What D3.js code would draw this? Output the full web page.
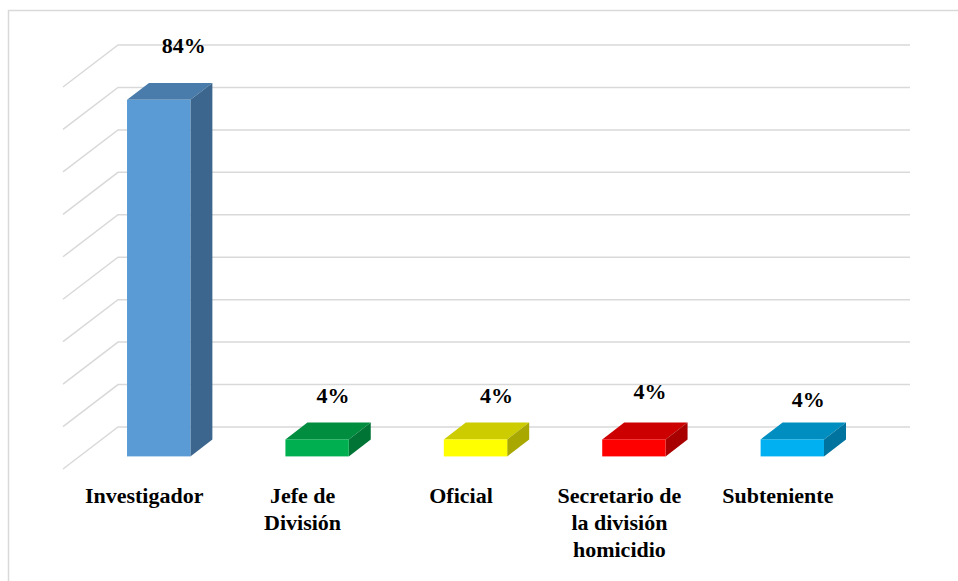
<!DOCTYPE html>
<html>
<head>
<meta charset="utf-8">
<script src="https://cdn.jsdelivr.net/npm/d3@7"></script>
</head>
<body style="margin:0;background:#ffffff">
<svg id="chart" width="958" height="581" style="display:block"></svg>
<script>
// Cargo del personal encuestado (porcentaje)
const categories = ["Investigador", "Jefe de División", "Oficial", "Secretario de la división homicidio", "Subteniente"];
const values = [84, 4, 4, 4, 4];
const valueLabels = ["84%", "4%", "4%", "4%", "4%"];
const barColors = ["#5b9bd5", "#00b050", "#ffff00", "#ff0000", "#00b0f0"];
const gridTicks = [0, 10, 20, 30, 40, 50, 60, 70, 80, 90];

// small hand placement of the value labels, [dx, dy] in px
const labelNudge = [[9, -10], [0, 0], [5, 0], [0, -4], [0, 4]];

const FONT = '"Liberation Serif", "Times New Roman", Tinos, Times, serif';

const svg = d3.select("#chart");

// frame
svg.append("path")
  .attr("d", "M8.5,581 L8.5,10.5 L958,10.5")
  .attr("fill", "none")
  .attr("stroke", "#d9d9d9")
  .attr("stroke-width", 1.5);

// 3D layout: back wall plane plus a depth vector toward the viewer
const DEPTH = [-55, 42];
const proj = (x, y, z) => [x + z * DEPTH[0], y + z * DEPTH[1]];

const x = d3.scaleBand()
  .domain(categories)
  .range([118, 910])
  .paddingInner(0.6)
  .paddingOuter(0.3);

const y = d3.scaleLinear().domain([0, 90]).range([427, 45]);

const Z_BACK = 0.3, Z_FRONT = 0.7;

// gridlines: back wall + left side wall
const grid = svg.append("g").attr("stroke", "#d9d9d9").attr("stroke-width", 1.5).attr("fill", "none");
gridTicks.forEach(t => {
  const yy = y(t);
  const a = proj(118, yy, 1);
  grid.append("path").attr("d", `M${a[0]},${a[1]} L118,${yy} L910,${yy}`);
});

const shade = (c, k) => {
  const r = d3.rgb(c);
  return d3.rgb(r.r * k, r.g * k, r.b * k).formatHex();
};

const poly = pts => "M" + pts.map(p => p.join(",")).join("L") + "Z";

const label = sel => sel
  .style("font-family", FONT, "important")
  .style("font-weight", "bold", "important")
  .style("font-size", "22px", "important")
  .style("fill", "#000")
  .attr("text-anchor", "middle");

const bars = svg.append("g");
categories.forEach((cat, i) => {
  const x0 = x(cat), x1 = x0 + x.bandwidth();
  const yt = y(values[i]), yb = y(0);
  const col = barColors[i];
  // top face
  bars.append("path")
    .attr("d", poly([proj(x0, yt, Z_FRONT), proj(x1, yt, Z_FRONT), proj(x1, yt, Z_BACK), proj(x0, yt, Z_BACK)]))
    .attr("fill", shade(col, 0.8));
  // right side face
  bars.append("path")
    .attr("d", poly([proj(x1, yt, Z_FRONT), proj(x1, yt, Z_BACK), proj(x1, yb, Z_BACK), proj(x1, yb, Z_FRONT)]))
    .attr("fill", shade(col, 0.66));
  // front face
  const f0 = proj(x0, yt, Z_FRONT), f1 = proj(x1, yb, Z_FRONT);
  bars.append("rect")
    .attr("x", f0[0]).attr("y", f0[1])
    .attr("width", f1[0] - f0[0]).attr("height", f1[1] - f0[1])
    .attr("fill", col);

  // value label above the bar
  const cx = (f0[0] + f1[0]) / 2 + 16 + labelNudge[i][0];
  const topBack = proj(x0, yt, Z_BACK)[1];
  svg.append("text")
    .attr("x", cx)
    .attr("y", topBack - 20 + labelNudge[i][1])
    .call(label)
    .text(valueLabels[i]);
});

// category labels under the floor, wrapped
const wrapWidth = 132;
categories.forEach(cat => {
  const cx = proj(x(cat) + x.bandwidth() / 2, 0, 1)[0] + 2;
  const t = svg.append("text")
    .attr("x", cx)
    .attr("y", 503)
    .call(label);
  const words = cat.split(" ");
  let line = [], lineNo = 0;
  let ts = t.append("tspan").attr("x", cx).attr("y", 503);
  words.forEach(w => {
    line.push(w);
    ts.text(line.join(" "));
    if (ts.node().getComputedTextLength() > wrapWidth && line.length > 1) {
      line.pop();
      ts.text(line.join(" "));
      line = [w];
      lineNo++;
      ts = t.append("tspan").attr("x", cx).attr("y", 503 + lineNo * 27).text(w);
    }
  });
});
</script>
</body>
</html>
